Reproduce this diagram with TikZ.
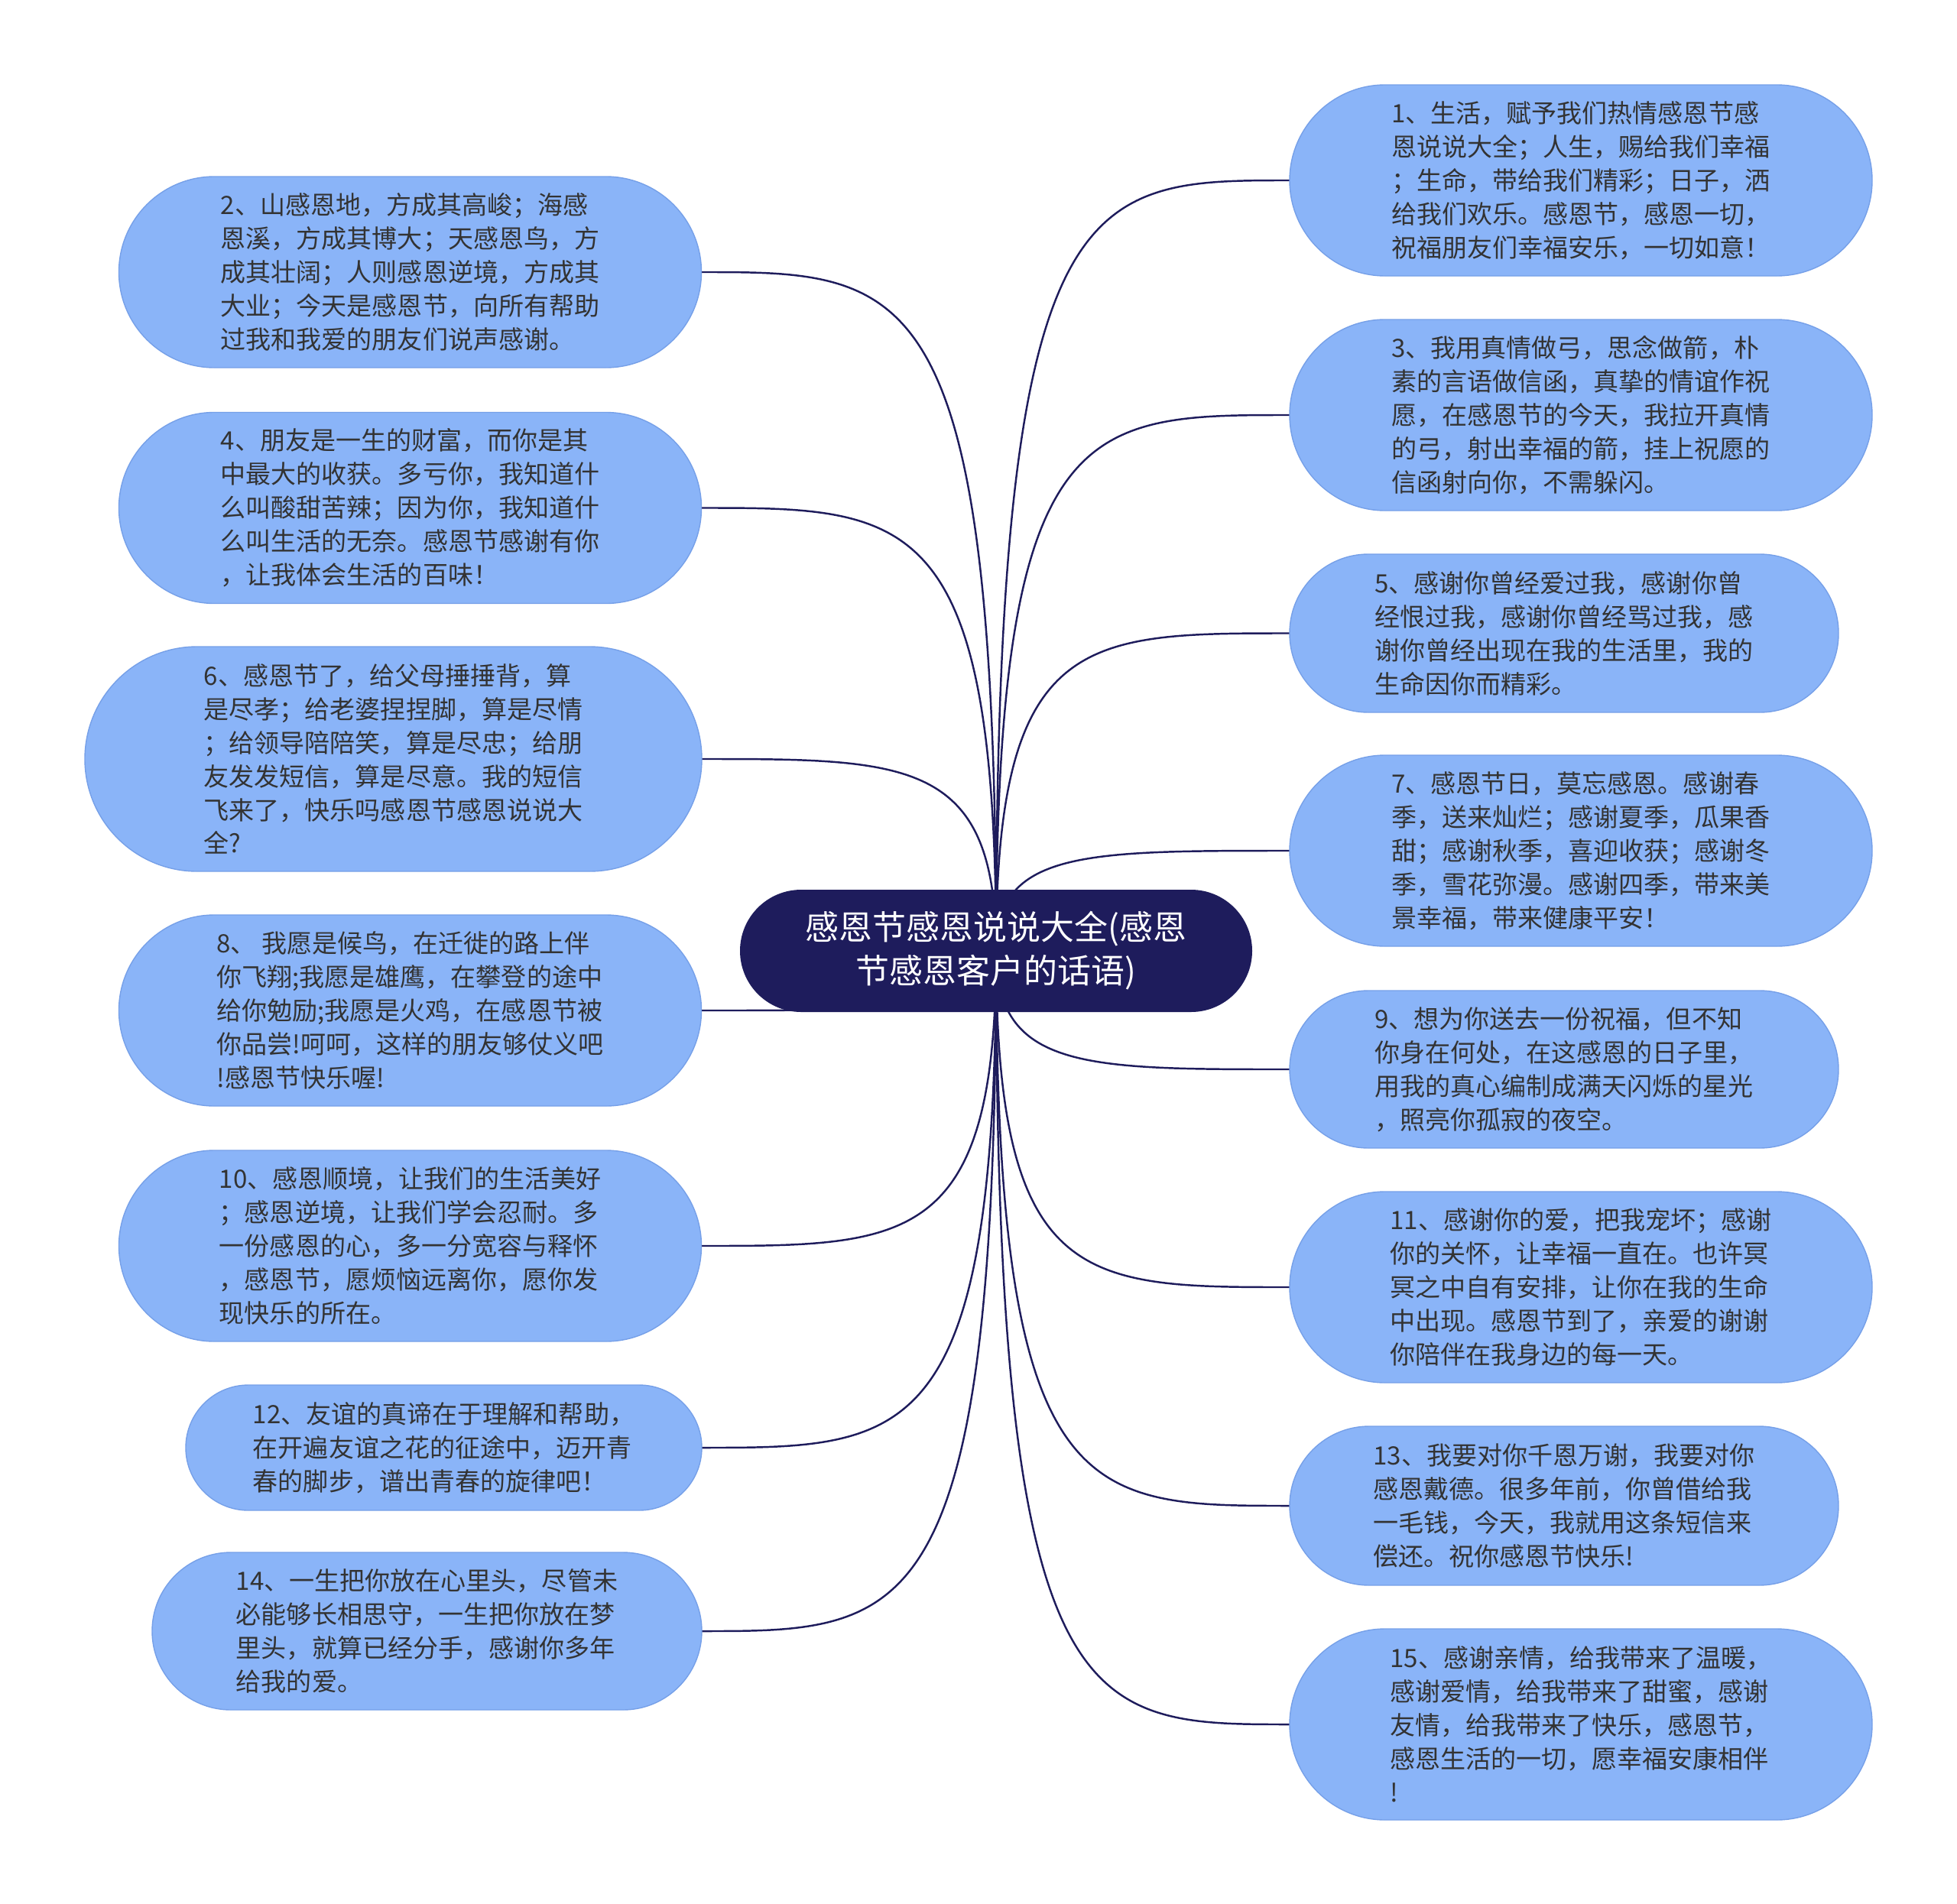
\documentclass[tikz,border=0pt]{standalone}
\usepackage{fontspec}
\setmainfont{Noto Sans CJK SC}
\definecolor{hubnavy}{RGB}{30,28,92}
\definecolor{leafblue}{RGB}{138,180,248}
\definecolor{leafedge}{RGB}{118,160,232}
\definecolor{leaftext}{RGB}{51,51,51}
\usetikzlibrary{calc,backgrounds}

\begin{document}
\begin{tikzpicture}[
  leaf/.style={draw=leafedge, line width=0.4pt, fill=leafblue, text=leaftext, align=left, inner sep=0pt, outer sep=0pt, minimum width=7.62cm, minimum height=2.5cm, rounded corners=1.25cm, font=\fontsize{9.4pt}{12.5pt}\selectfont},
  hub/.style={fill=hubnavy, text=white, align=center, inner sep=0pt, outer sep=0pt, minimum width=6.7cm, minimum height=1.6cm, rounded corners=0.8cm, font=\fontsize{12.5pt}{16.2pt}\selectfont},
  link/.style={draw=hubnavy, line width=0.7pt}
]
\useasboundingbox (0,0) rectangle (25.6,-24.91);

\node[hub] (hub) at (13.03,-12.44) {感恩节感恩说说大全(感恩\\节感恩客户的话语)};

\node[leaf] (n2) at (5.365,-3.56) {2、山感恩地，方成其高峻；海感\\恩溪，方成其博大；天感恩鸟，方\\成其壮阔；人则感恩逆境，方成其\\大业；今天是感恩节，向所有帮助\\过我和我爱的朋友们说声感谢。};
\node[leaf] (n4) at (5.365,-6.645) {4、朋友是一生的财富，而你是其\\中最大的收获。多亏你，我知道什\\么叫酸甜苦辣；因为你，我知道什\\么叫生活的无奈。感恩节感谢有你\\，让我体会生活的百味！};
\node[leaf, minimum width=8.07cm, minimum height=2.94cm, rounded corners=1.47cm] (n6) at (5.145,-9.93) {6、感恩节了，给父母捶捶背，算\\是尽孝；给老婆捏捏脚，算是尽情\\；给领导陪陪笑，算是尽忠；给朋\\友发发短信，算是尽意。我的短信\\飞来了，快乐吗感恩节感恩说说大\\全?};
\node[leaf] (n8) at (5.365,-13.22) {8、 我愿是候鸟，在迁徙的路上伴\\你飞翔;我愿是雄鹰，在攀登的途中\\给你勉励;我愿是火鸡，在感恩节被\\你品尝!呵呵，这样的朋友够仗义吧\\!感恩节快乐喔!};
\node[leaf] (n10) at (5.365,-16.30) {10、感恩顺境，让我们的生活美好\\；感恩逆境，让我们学会忍耐。多\\一份感恩的心，多一分宽容与释怀\\，感恩节，愿烦恼远离你，愿你发\\现快乐的所在。};
\node[leaf, minimum width=6.75cm, minimum height=1.64cm, rounded corners=0.82cm] (n12) at (5.805,-18.94) {12、友谊的真谛在于理解和帮助，\\在开遍友谊之花的征途中，迈开青\\春的脚步，谱出青春的旋律吧！};
\node[leaf, minimum width=7.19cm, minimum height=2.06cm, rounded corners=1.03cm] (n14) at (5.585,-21.34) {14、一生把你放在心里头，尽管未\\必能够长相思守，一生把你放在梦\\里头，就算已经分手，感谢你多年\\给我的爱。};

\node[leaf] (n1) at (20.68,-2.36) {1、生活，赋予我们热情感恩节感\\恩说说大全；人生，赐给我们幸福\\；生命，带给我们精彩；日子，洒\\给我们欢乐。感恩节，感恩一切，\\祝福朋友们幸福安乐，一切如意！};
\node[leaf] (n3) at (20.68,-5.43) {3、我用真情做弓，思念做箭，朴\\素的言语做信函，真挚的情谊作祝\\愿，在感恩节的今天，我拉开真情\\的弓，射出幸福的箭，挂上祝愿的\\信函射向你，不需躲闪。};
\node[leaf, minimum width=7.18cm, minimum height=2.07cm, rounded corners=1.03cm] (n5) at (20.46,-8.285) {5、感谢你曾经爱过我，感谢你曾\\经恨过我，感谢你曾经骂过我，感\\谢你曾经出现在我的生活里，我的\\生命因你而精彩。};
\node[leaf] (n7) at (20.68,-11.13) {7、感恩节日，莫忘感恩。感谢春\\季，送来灿烂；感谢夏季，瓜果香\\甜；感谢秋季，喜迎收获；感谢冬\\季，雪花弥漫。感谢四季，带来美\\景幸福，带来健康平安！};
\node[leaf, minimum width=7.18cm, minimum height=2.06cm, rounded corners=1.03cm] (n9) at (20.46,-13.99) {9、想为你送去一份祝福，但不知\\你身在何处，在这感恩的日子里，\\用我的真心编制成满天闪烁的星光\\，照亮你孤寂的夜空。};
\node[leaf] (n11) at (20.68,-16.84) {11、感谢你的爱，把我宠坏；感谢\\你的关怀，让幸福一直在。也许冥\\冥之中自有安排，让你在我的生命\\中出现。感恩节到了，亲爱的谢谢\\你陪伴在我身边的每一天。};
\node[leaf, minimum width=7.18cm, minimum height=2.08cm, rounded corners=1.04cm] (n13) at (20.46,-19.70) {13、我要对你千恩万谢，我要对你\\感恩戴德。很多年前，你曾借给我\\一毛钱，今天，我就用这条短信来\\偿还。祝你感恩节快乐!};
\node[leaf] (n15) at (20.68,-22.56) {15、感谢亲情，给我带来了温暖，\\感谢爱情，给我带来了甜蜜，感谢\\友情，给我带来了快乐，感恩节，\\感恩生活的一切，愿幸福安康相伴\\!};

\begin{scope}[on background layer]
\foreach \n in {n2,n4,n6,n8,n10,n12,n14}
  \draw[link] (hub.center) .. controls (hub.center |- \n.east) and ($(hub.center |- \n.east)!0.3!(\n.east)$) .. (\n.east);
\foreach \n in {n1,n3,n5,n7,n9,n11,n13,n15}
  \draw[link] (hub.center) .. controls (hub.center |- \n.west) and ($(hub.center |- \n.west)!0.3!(\n.west)$) .. (\n.west);
\end{scope}
\end{tikzpicture}
\end{document}
